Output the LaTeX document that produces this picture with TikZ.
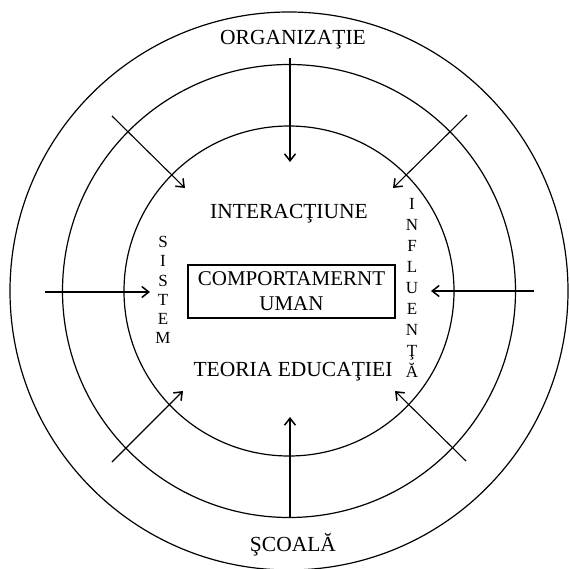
\documentclass[tikz,border=0pt]{standalone}
\usepackage{fontspec}
\setmainfont{Liberation Serif}
\usepackage{tikz}
\usetikzlibrary{arrows.meta,positioning,calc}

\tikzset{
  ring/.style={line width=1.2pt},
  push/.style={line width=1.1pt, -{Straight Barb[length=7pt,width=11pt,line width=1.5pt]}},
  label/.style={font=\fontsize{21.5}{25}\selectfont, inner sep=0pt},
  column/.style={align=center, inner sep=0pt},
}

\begin{document}
\begin{tikzpicture}[x=1pt,y=1pt]
    \useasboundingbox (-289,-277) rectangle (280,291);

    \draw[ring] (0,0) circle (165);
    \draw[ring] (0,0) circle (226.5);
    \draw[ring] (0,0) circle (279);

    \node[label] (org) at (4,251) {ORGANIZAŢIE};
    \node[label] (sco) at (4,-254) {ŞCOALĂ};
    \node[label] (inter) at (0,77) {INTERACŢIUNE};
    \node[label] (teoria) at (4,-81) {TEORIA EDUCAŢIEI};

    \node[draw, line width=1.4pt, minimum width=207, minimum height=53, align=center,
          font=\fontsize{21}{25}\selectfont, inner sep=0pt] (om) at (2.5,-0.5)
        {COMPORTAMERNT\\UMAN};

    \node[column, font=\fontsize{17}{19.2}\selectfont] (sistem) at (-126,1)
        {S\\I\\S\\T\\E\\M};
    \node[column, font=\fontsize{17}{20.9}\selectfont] (infl) at (123,3)
        {I\\N\\F\\L\\U\\E\\N\\Ţ\\Ă};

    \coordinate (n0) at (1,233);    \coordinate (n1) at (1,129);
    \coordinate (s0) at (1,-227);   \coordinate (s1) at (1,-126);
    \coordinate (w0) at (-244,-1);  \coordinate (w1) at (-139,-1);
    \coordinate (e0) at (245,0);    \coordinate (e1) at (142,0);
    \coordinate (nw0) at (-177,175); \coordinate (nw1) at (-104,103);
    \coordinate (ne0) at (178,176);  \coordinate (ne1) at (104,103);
    \coordinate (sw0) at (-177,-171); \coordinate (sw1) at (-106,-100);
    \coordinate (se0) at (177,-170);  \coordinate (se1) at (106,-100);

    \foreach \d in {n,s,w,e,nw,ne,sw,se}
        \draw[push] (\d0) -- (\d1);
\end{tikzpicture}
\end{document}
